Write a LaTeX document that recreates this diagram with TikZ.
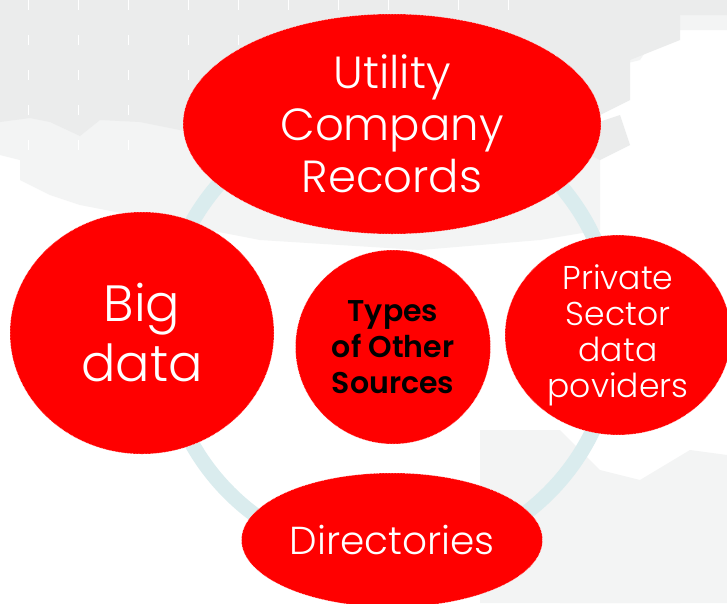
\documentclass[tikz,border=0pt]{standalone}
\usepackage{fontspec}
\setmainfont{Poppins}[UprightFont=* Light, BoldFont=* SemiBold]
\usetikzlibrary{shapes.geometric}
\definecolor{bubred}{HTML}{FF0000}
\definecolor{ringblue}{HTML}{DAECEE}
\definecolor{bgdark}{HTML}{EBECEC}
\definecolor{bglight}{HTML}{F3F4F4}
\tikzset{
  bubble/.style={ellipse, fill=bubred, draw=white, densely dotted, line width=0.5pt,
    inner sep=0pt, align=center, text=white},
  hub/.style={bubble, text=black, font=\bfseries\fontsize{30}{36}\selectfont},
}
\begin{document}
\begin{tikzpicture}[x=1pt,y=-1pt]
\useasboundingbox (0,0) rectangle (727,603);
\fill[white] (0,0) rectangle (727,603);
% background hex-like bands
\fill[bglight] (0,0) -- (727,0) -- (727,30) -- (660,30) -- (640,60) -- (600,70) -- (600,230)
  -- (540,240) -- (420,250) -- (260,240) -- (80,205) -- (50,195) -- (20,180) -- (20,160) -- (0,155) -- cycle;
\fill[bgdark] (0,0) -- (727,0) -- (727,15) -- (680,15) -- (680,40) -- (630,60) -- (630,100)
  -- (600,115) -- (560,110) -- (520,105) -- (450,100) -- (400,120) -- (340,140) -- (300,135)
  -- (250,150) -- (240,135) -- (180,130) -- (140,122) -- (100,120) -- (80,136) -- (50,122) -- (30,118) -- (0,122) -- cycle;
\fill[bgdark] (590,125) -- (620,115) -- (630,145) -- (600,160) -- (580,150) -- cycle;
\fill[bglight] (480,430) -- (560,430) -- (600,470) -- (640,480) -- (690,450) -- (727,455) -- (727,603) -- (480,603) -- cycle;
\fill[bglight] (560,520) -- (600,500) -- (640,540) -- (680,603) -- (560,603) -- cycle;
\foreach \xx in {28,78,128,188,238,288,338,388,458,508}
  \draw[white, line width=1pt, dash pattern=on 10pt off 25pt] (\xx,0) -- (\xx,170);
% ring
\draw[ringblue, line width=15pt] (389,333) circle[radius=226];
% bubbles
\node[bubble, minimum width=418pt, minimum height=220pt, font=\fontsize{45}{52}\selectfont]
  (util) at (392,124) {Utility\\Company\\Records};
\node[bubble, minimum width=264pt, minimum height=242pt, font=\fontsize{51}{60}\selectfont]
  (big) at (142,333) {Big\\data};
\node[bubble, minimum width=226pt, minimum height=194pt, font=\fontsize{33}{36}\selectfont]
  (priv) at (618,335) {Private\\Sector\\data\\poviders};
\node[bubble, minimum width=301pt, minimum height=134pt, font=\fontsize{39}{46}\selectfont]
  (dir) at (392,540) {Directories};
\node[hub, minimum width=195pt, minimum height=194pt] (types) at (393,347) {Types\\of Other\\Sources};
\end{tikzpicture}
\end{document}
